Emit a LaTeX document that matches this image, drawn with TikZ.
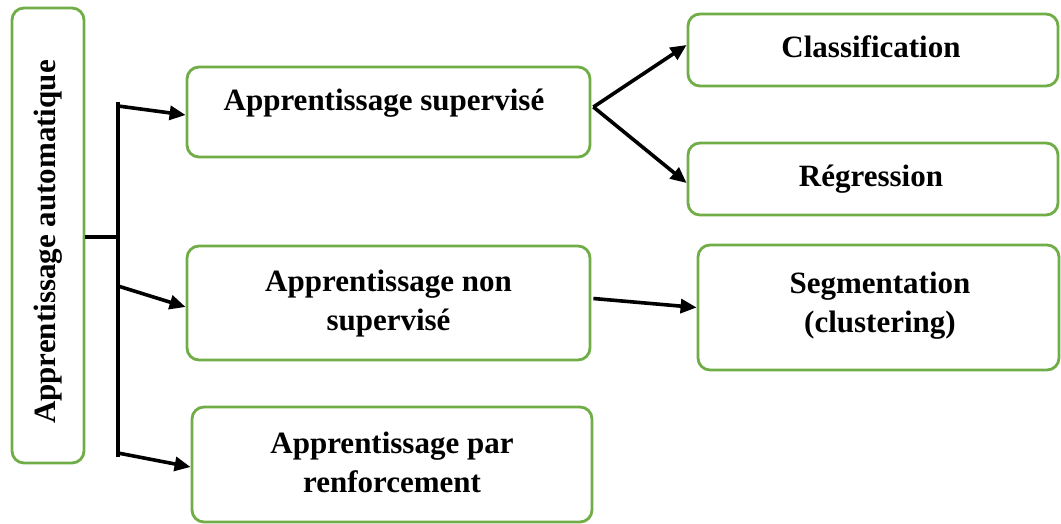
\documentclass[tikz,border=0pt]{standalone}
\usepackage{fontspec}
\setmainfont{Liberation Serif}
\usetikzlibrary{arrows.meta}
\definecolor{boxgreen}{RGB}{112,173,71}
\begin{document}
\begin{tikzpicture}[x=1pt,y=-1pt,
  box/.style={draw=boxgreen, line width=2.8pt, rounded corners=12pt, inner sep=0pt},
  lbl/.style={font=\bfseries\fontsize{31}{38.5}\selectfont, align=center, anchor=base, inner sep=0pt},
  conn/.style={line width=3.6pt, black},
  arr/.style={conn, -{Triangle[length=16pt,width=14pt]}}]
\useasboundingbox (0,0) rectangle (1061,524);
% boxes
\node[box, minimum width=72pt, minimum height=455pt] (auto) at (48,235.5) {};
\node[box, minimum width=403pt, minimum height=90pt] (sup) at (388.5,112) {};
\node[box, minimum width=370pt, minimum height=72pt] (class) at (873,50) {};
\node[box, minimum width=370pt, minimum height=72pt] (reg) at (873,179) {};
\node[box, minimum width=403pt, minimum height=114pt] (nonsup) at (388.5,303) {};
\node[box, minimum width=361pt, minimum height=125pt] (seg) at (878.5,307.5) {};
\node[box, minimum width=400pt, minimum height=115pt] (renf) at (392,464.5) {};
% labels
\node[lbl, rotate=90] (autot) at (55,242) {Apprentissage automatique};
\node[lbl] (supt) at (384,111) {Apprentissage supervisé};
\node[lbl] (classt) at (871,58) {Classification};
\node[lbl] (regt) at (871,187) {Régression};
\node[lbl] (nonsupt) at (388.5,330) {Apprentissage non\\supervisé};
\node[lbl] (segt) at (880,332) {Segmentation\\(clustering)};
\node[lbl] (renft) at (392,492) {Apprentissage par\\renforcement};
% tree connectors
\coordinate (j) at (118,237);
\coordinate (vt) at (118,102);
\coordinate (vb) at (118,457);
\coordinate (a1) at (118,106);
\coordinate (a2) at (118,286);
\coordinate (a3) at (118,453);
\draw[conn] (j -| auto.east) -- (j);
\draw[conn] (vt) -- (vb);
\draw[arr] (a1) -- ([yshift=-3pt]sup.west);
\draw[arr] (a2) -- ([yshift=-4pt]nonsup.west);
\draw[arr] (a3) -- ([yshift=-2.5pt]renf.west);
% right connectors
\coordinate (s1) at ([xshift=2pt,yshift=5pt]sup.east);
\draw[arr] (s1) -- ([yshift=5pt]class.west);
\draw[arr] (s1) -- ([yshift=-4pt]reg.west);
\draw[arr] ([xshift=2pt,yshift=4.5pt]nonsup.east) -- (seg.west);
\end{tikzpicture}
\end{document}
